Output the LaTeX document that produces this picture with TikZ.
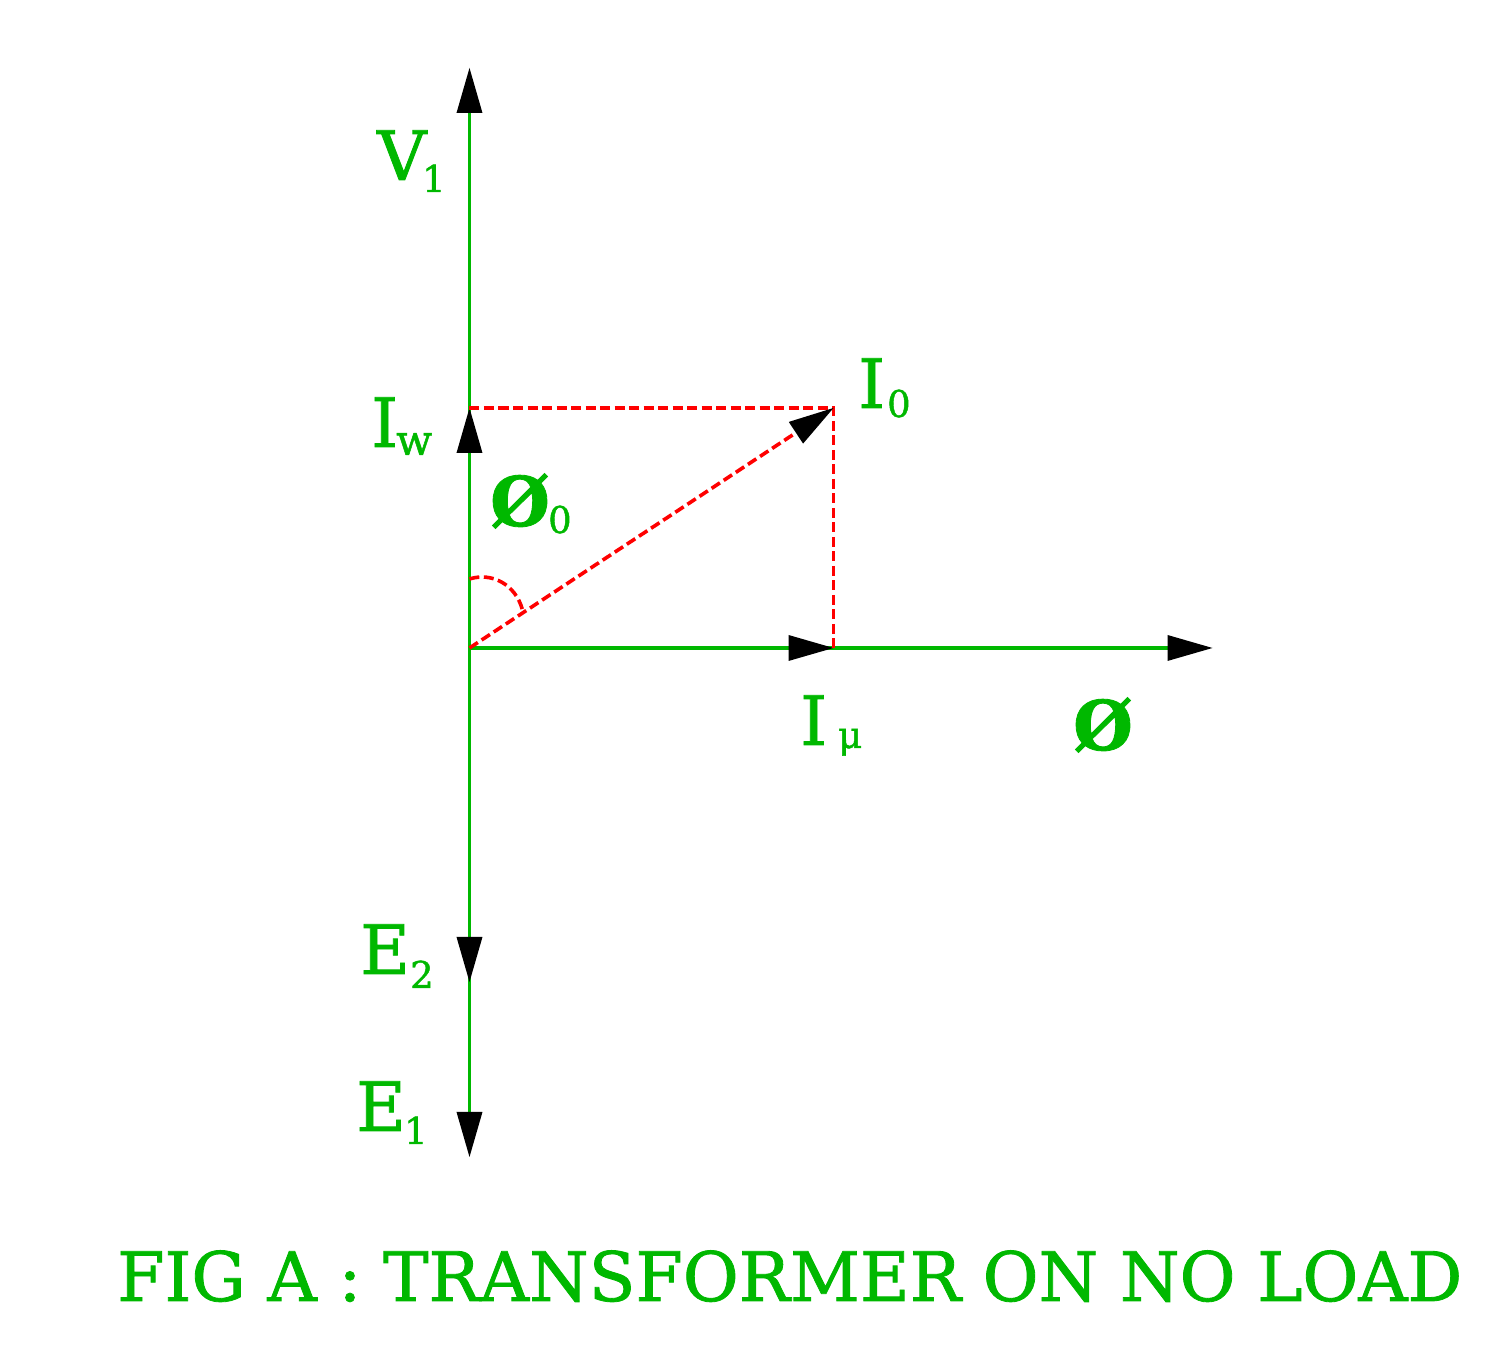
\documentclass[tikz,border=0pt]{standalone}
\usepackage{fontspec}
\usepackage{tikz}
\usetikzlibrary{arrows.meta}
\setmainfont[FakeBold=1.2]{DejaVu Serif}
\definecolor{phasorgreen}{RGB}{0,184,0}
\tikzset{
    phasor/.style={phasorgreen,line width=.033cm},
    construct/.style={draw=red,line width=.036cm,dash pattern=on .1cm off .045cm},
    lab/.style={anchor=base west,inner sep=0pt,text=phasorgreen,font=\fontsize{19.4}{24}\selectfont},
    sublab/.style={lab,font=\fontsize{10.5}{12}\selectfont},
    phi/.style={lab,font=\fontsize{19.5}{24}\selectfont\bfseries}
}

\begin{document}
\begin{tikzpicture}[>={Triangle[length=.45cm,width=.26cm,line width=0pt,black,fill=black]}]
    \useasboundingbox (-4.695,-7.04) rectangle (10.365,6.48);
    \coordinate (O) at (0,0);
    \coordinate (V) at (0,5.80);
    \coordinate (W) at (0,2.40);
    \coordinate (I) at (3.64,2.40);
    \coordinate (M) at (3.64,0);
    \coordinate (F) at (7.43,0);
    \coordinate (Etwo) at (0,-3.34);
    \coordinate (Eone) at (0,-5.09);
    \coordinate (Aa) at (0,.69);
    \coordinate (Ab) at (.53,.38);
    \path[phasor,->] (O) edge (V) edge (W) edge (F) edge (M) edge (Eone) edge (Etwo);
    \draw[construct] (W) -- (I) -- (M);
    \draw[construct] (Aa) .. controls (.22,.76) and (.46,.64) .. (Ab);
    \draw[construct,->] (O) -- (I);
    \node[lab] (v) at (-.93,4.68) {V};
    \node[sublab] (v1) at (-.48,4.56) {1};
    \node[lab] (iw) at (-.99,2.01) {I};
    \node[sublab,font=\fontsize{12}{12}\selectfont] (iw1) at (-.74,1.93) {w};
    \node[lab] (i0) at (3.88,2.40) {I};
    \node[sublab] (i01) at (4.17,2.31) {0};
    \node[phi] (ph0) at (.20,1.22) {Ø};
    \node[sublab] (ph01) at (.78,1.15) {0};
    \node[lab] (imu) at (3.30,-.97) {I};
    \node[sublab] (imu1) at (3.68,-1.00) {μ};
    \node[phi] (ph) at (6.03,-1.02) {Ø};
    \node[lab] (e2) at (-1.10,-3.26) {E};
    \node[sublab] (e21) at (-.60,-3.40) {2};
    \node[lab] (e1) at (-1.14,-4.83) {E};
    \node[sublab] (e11) at (-.66,-4.96) {1};
    \node[lab] (cap) at (-3.53,-6.53) {FIG A : TRANSFORMER ON NO LOAD};
\end{tikzpicture}
\end{document}
